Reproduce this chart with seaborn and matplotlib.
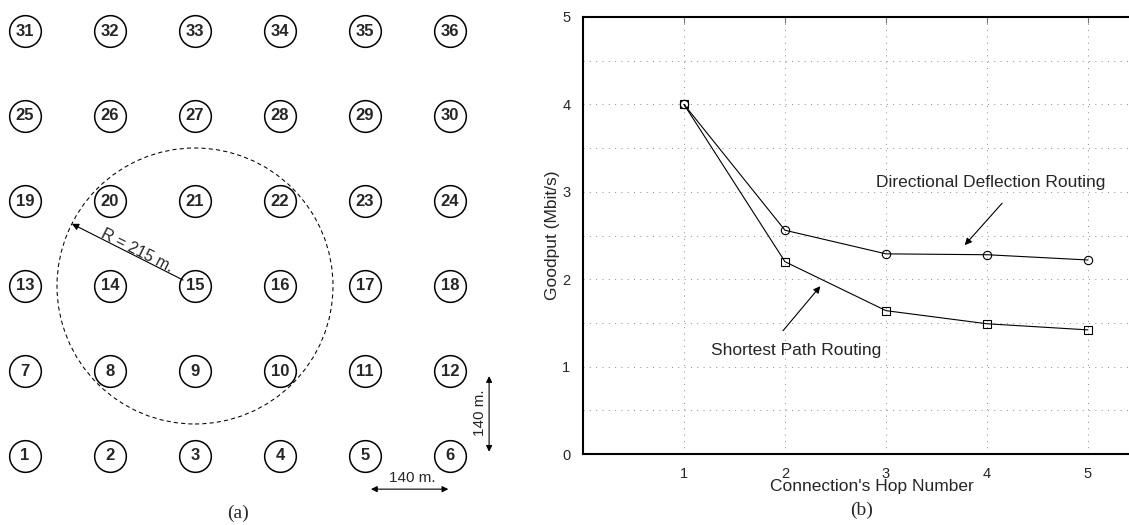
import numpy as np
import pandas as pd
import matplotlib
matplotlib.use('Agg')
import matplotlib.pyplot as plt
from matplotlib.patches import Circle
import seaborn as sns

# node ids of the 6x6 grid (a) and goodput per hop count (b)
node_ids = list(range(1, 37))
grid_cols = 6
hops = [1, 2, 3, 4, 5]
ddr_goodput = [4.00, 2.56, 2.29, 2.28, 2.22]
spr_goodput = [4.00, 2.20, 1.64, 1.49, 1.42]
series_names = ['Directional Deflection Routing', 'Shortest Path Routing']
y_ticks = [0, 1, 2, 3, 4, 5]

sns.set_style('white')
plt.rcParams['font.family'] = ['Liberation Sans', 'DejaVu Sans']

W, H = 1129, 525
fig = plt.figure(figsize=(W / 100, H / 100), dpi=100)

# ---------------- (a) grid topology ----------------
pitch = 85.0  # px between nodes
ax_a = fig.add_axes([0, 0, 500 / W, 1])
ax_a.set_xlim(-25 / pitch, 475 / pitch)
ax_a.set_ylim(-69 / pitch, 456 / pitch)
ax_a.axis('off')

nodes = pd.DataFrame({'id': node_ids})
nodes['col'] = (nodes['id'] - 1) % grid_cols
nodes['row'] = (nodes['id'] - 1) // grid_cols

sns.scatterplot(data=nodes, x='col', y='row', s=520, color='white',
                edgecolor='black', linewidth=1.1, legend=False, ax=ax_a, zorder=3)
for _, r in nodes.iterrows():
    ax_a.text(r['col'], r['row'], str(r['id']), ha='center', va='center',
              fontsize=12, fontweight='bold', zorder=4)

# transmission range around node 15
centre = nodes.loc[nodes['id'] == 15, ['col', 'row']].values[0]
rad = 138 / pitch
ax_a.add_patch(Circle(centre, rad, fill=False, lw=0.75, ls=(0, (4, 3)),
                      color='black', zorder=2))
ang = np.deg2rad(153.2)
head = (centre[0] + rad * np.cos(ang), centre[1] + rad * np.sin(ang))
ax_a.annotate('', xy=head, xytext=(centre[0] - 0.14, centre[1] + 0.07),
              arrowprops=dict(arrowstyle='-|>', color='black', lw=0.8,
                              mutation_scale=10, shrinkA=0, shrinkB=0), zorder=5)
ax_a.text(1.32, 2.42, 'R = 215 m.', rotation=-26.8, rotation_mode='anchor',
          ha='center', va='center', fontsize=11.5)

# scale arrows
ax_a.annotate('', xy=(4.07, -0.39), xytext=(4.98, -0.39),
              arrowprops=dict(arrowstyle='<|-|>', color='black', lw=0.8,
                              mutation_scale=9, shrinkA=0, shrinkB=0))
ax_a.text(4.56, -0.26, '140 m.', ha='center', va='center', fontsize=11)
ax_a.annotate('', xy=(5.46, 0.05), xytext=(5.46, 0.94),
              arrowprops=dict(arrowstyle='<|-|>', color='black', lw=0.8,
                              mutation_scale=9, shrinkA=0, shrinkB=0))
ax_a.text(5.35, 0.51, '140 m.', rotation=90, ha='center', va='center', fontsize=11)

ax_a.text(2.51, -0.67, '(a)', ha='center', va='center', fontsize=14,
          family=['Liberation Serif', 'DejaVu Serif'])

# ---------------- (b) goodput vs hops ----------------
ax_b = fig.add_axes([583 / W, 71 / H, 606 / W, 437 / H])

df = pd.DataFrame({
    'hop': hops * 2,
    'goodput': ddr_goodput + spr_goodput,
    'routing': [series_names[0]] * len(hops) + [series_names[1]] * len(hops),
})
sns.lineplot(data=df, x='hop', y='goodput', style='routing',
             markers={series_names[0]: 'o', series_names[1]: 's'}, dashes=False,
             color='black', lw=0.8, markersize=6, markerfacecolor='none',
             markeredgecolor='black', markeredgewidth=0.8, legend=False, ax=ax_b,
             zorder=3)

ax_b.set_xlim(0, 6)
ax_b.set_ylim(0, 5)
ax_b.set_xticks(hops)
ax_b.set_yticks(y_ticks)
ax_b.set_yticks(np.arange(0.5, 5, 1.0), minor=True)
ax_b.grid(True, which='both', color='#8a8a8a', lw=0.7, ls=(0, (1, 5.5)))
ax_b.tick_params(which='both', direction='in', length=4, color='#777777',
                 labelsize=10.5, pad=9, top=True)
ax_b.tick_params(which='minor', length=0)
for s in ['top', 'left', 'bottom']:
    ax_b.spines[s].set_linewidth(1.5)
    ax_b.spines[s].set_color('black')

ax_b.set_xlabel("Connection's Hop Number", fontsize=12.5)
ax_b.set_ylabel('Goodput (Mbit/s)', fontsize=12.5)
ax_b.xaxis.set_label_coords((872 - 583) / 606, (454 - 487) / 437)
ax_b.xaxis.label.set_va('center')
ax_b.yaxis.set_label_coords((553 - 583) / 606, 0.5)
ax_b.yaxis.label.set_va('center')

ax_b.text(2.9, 3.11, series_names[0], ha='left', va='center', fontsize=12.5)
ax_b.annotate('', xy=(3.78, 2.39), xytext=(4.15, 2.87),
              arrowprops=dict(arrowstyle='-|>', color='black', lw=0.8,
                              mutation_scale=10, shrinkA=0, shrinkB=0))
ax_b.text(1.27, 1.18, series_names[1], ha='left', va='center', fontsize=12.5)
ax_b.annotate('', xy=(2.35, 1.92), xytext=(1.98, 1.41),
              arrowprops=dict(arrowstyle='-|>', color='black', lw=0.8,
                              mutation_scale=10, shrinkA=0, shrinkB=0))

fig.text(862 / W, (525 - 510) / H, '(b)', ha='center', va='center', fontsize=14,
         family=['Liberation Serif', 'DejaVu Serif'])

fig.savefig('out.png', dpi=100)
